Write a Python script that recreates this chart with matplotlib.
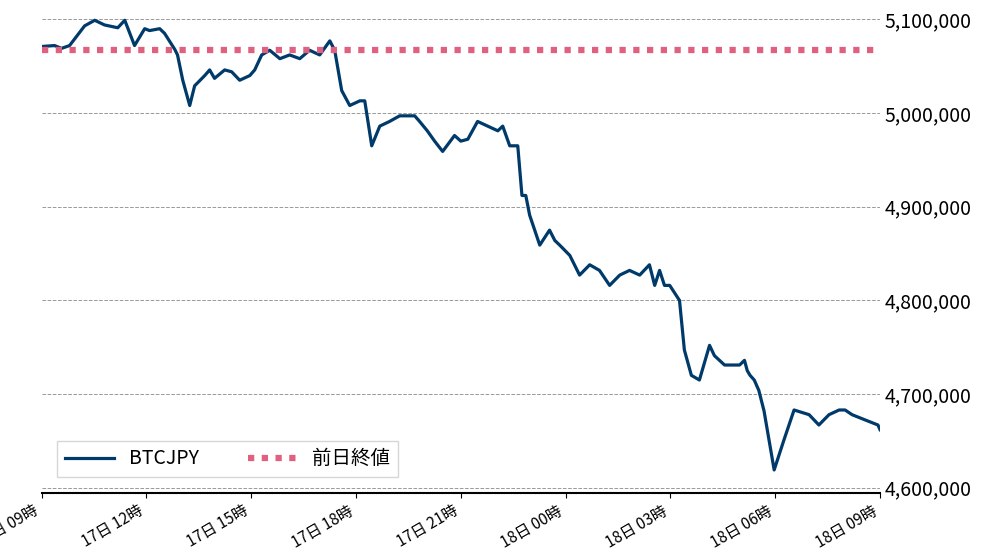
import matplotlib
matplotlib.use("Agg")
import matplotlib.pyplot as plt
import matplotlib.dates as mdates
import numpy as np
import datetime as dt

plt.rcParams['font.family'] = ['Noto Sans CJK JP', 'DejaVu Sans']

start = dt.datetime(2024, 1, 17, 9, 0)
hours = [0.0, 0.37, 0.57, 0.8, 1.23, 1.52, 1.8, 2.18, 2.38, 2.66, 2.95, 3.09, 3.38, 3.52,
         3.81, 3.89, 4.04, 4.24, 4.38, 4.67, 4.81, 4.95, 5.24, 5.44, 5.67, 5.96, 6.1, 6.3,
         6.53, 6.82, 7.1, 7.39, 7.67, 7.96, 8.25, 8.39, 8.59, 8.82, 9.11, 9.25, 9.45, 9.68,
         9.96, 10.25, 10.68, 10.82, 11.04, 11.25, 11.48, 11.82, 12.0, 12.2, 12.48, 12.77,
         13.06, 13.2, 13.4, 13.63, 13.75, 13.86, 13.97, 14.26, 14.54, 14.69, 14.83, 15.12,
         15.4, 15.69, 15.97, 16.26, 16.55, 16.83, 17.12, 17.4, 17.55, 17.69, 17.83, 17.98,
         18.26, 18.4, 18.6, 18.83, 19.12, 19.26, 19.55, 19.83, 19.98, 20.12, 20.2, 20.28,
         20.4, 20.53, 20.68, 20.97, 21.25, 21.54, 21.97, 22.25, 22.54, 22.83, 23.0, 23.2,
         23.6, 23.94, 24.0]
values = [5071, 5072, 5069, 5072, 5093, 5099, 5094, 5091, 5099, 5072, 5090, 5088, 5090,
          5085, 5068, 5062, 5035, 5008, 5029, 5040, 5046, 5037, 5046, 5044, 5035, 5040,
          5046, 5062, 5067, 5058, 5062, 5058, 5067, 5062, 5077, 5067, 5024, 5008, 5013,
          5013, 4965, 4986, 4991, 4997, 4997, 4991, 4981, 4970, 4959, 4976, 4970, 4972,
          4991, 4986, 4981, 4986, 4965, 4965, 4912, 4912, 4891, 4859, 4875, 4864, 4859,
          4848, 4827, 4838, 4832, 4816, 4827, 4832, 4827, 4838, 4816, 4832, 4816, 4816,
          4800, 4747, 4720, 4715, 4752, 4741, 4731, 4731, 4731, 4736, 4725, 4720, 4715,
          4704, 4682, 4619, 4651, 4683, 4678, 4667, 4678, 4683, 4683, 4678, 4672, 4667, 4662]
prev_close = 5067000
yticks = [4600000, 4700000, 4800000, 4900000, 5000000, 5100000]

times = [start + dt.timedelta(hours=h) for h in hours]
vals = np.array(values) * 1000

fig = plt.figure(figsize=(9.91, 5.58), dpi=100)
ax = fig.add_axes([0.042, 0.117, 0.846, 0.868])
ax.plot(times, vals, color='#003a6a', lw=2.3, label='BTCJPY')
ax.axhline(prev_close, color='#e06080', lw=4.5, ls=(0, (1, 1.2)), label='前日終値')
ax.set_xlim(start, start + dt.timedelta(hours=24))
ax.set_ylim(4594700, 5111700)
ax.yaxis.tick_right()
ax.set_yticks(yticks)
ax.set_yticklabels([f'{v:,}' for v in yticks], fontsize=14)
ax.grid(axis='y', color='#999999', ls='--', lw=0.7)
ax.xaxis.set_major_locator(mdates.HourLocator(byhour=range(0, 24, 3)))
ax.xaxis.set_major_formatter(mdates.DateFormatter('%d日 %H時'))
plt.setp(ax.get_xticklabels(), rotation=30, ha='right', fontsize=11)
for s in ['top', 'left', 'right']:
    ax.spines[s].set_visible(False)
ax.spines['bottom'].set_linewidth(1.5)
ax.tick_params(axis='y', length=0)
ax.legend(loc='lower left', ncol=2, fontsize=14, frameon=True, fancybox=False,
          handlelength=2.5, columnspacing=2.5, borderaxespad=0.8)
fig.savefig('out.png', dpi=100)
